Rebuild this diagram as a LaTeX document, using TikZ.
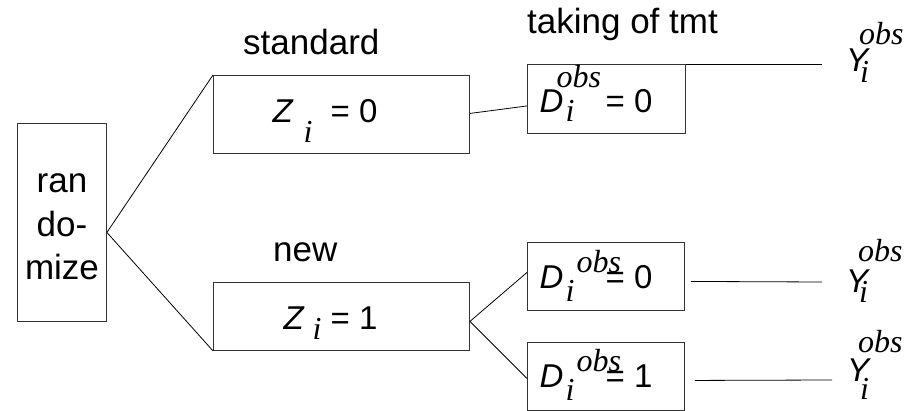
\documentclass[tikz,border=0pt]{standalone}
\usepackage{fontspec}
\setmainfont{Liberation Sans}
\newfontfamily\tnr{Liberation Serif}
\newcommand\pc[3]{\rlap{\hspace*{#1pt}\raisebox{#2pt}{#3}}}
\newcommand\sfs{\fontsize{33}{33}\selectfont}
\newcommand\srf{\fontsize{32}{32}\selectfont\tnr\itshape}
\begin{document}
\begin{tikzpicture}[x=1pt,y=-1pt,
  box/.style={draw=black!80, line width=0.9pt, inner sep=0pt, anchor=north west},
  lbl/.style={inner sep=0pt, anchor=base west, font=\fontsize{35}{43}\selectfont},
  frm/.style={inner sep=0pt, anchor=base west, font=\sfs},
  conn/.style={draw=black, line width=0.8pt}]
\useasboundingbox (0,0) rectangle (914,411);
% boxes
\node[box, minimum width=89pt, minimum height=198pt] (rand) at (17,123) {};
\node[box, minimum width=256pt, minimum height=78pt] (z0) at (213,75) {};
\node[box, minimum width=256pt, minimum height=68pt] (z1) at (213,282) {};
\node[box, minimum width=158pt, minimum height=69pt] (d0) at (527,64) {};
\node[box, minimum width=157pt, minimum height=68pt] (d0b) at (527,242) {};
\node[box, minimum width=157pt, minimum height=68pt] (d1) at (527,342) {};
% randomize text
\node[inner sep=0pt, align=center, font=\fontsize{35}{43.5}\selectfont, anchor=base] (rtext) at (62,280) {ran\\do-\\mize};
% labels
\node[lbl] (lstd) at (243,55) {standard};
\node[lbl] (lnew) at (273,262) {new};
\node[lbl] (ltake) at (527,34) {taking of tmt};
% formulas in boxes
\node[frm] (fz0) at (272,123) {\pc{0}{0}{\itshape Z}\pc{31}{-20}{\srf i}\pc{58}{0}{= 0}};
\node[frm] (fz1) at (283,330) {\pc{0}{0}{\itshape Z}\pc{29}{-10}{\srf i}\pc{47}{0}{= 1}};
\node[frm] (fd0) at (539,113) {\pc{0}{0}{\itshape D}\pc{17}{25}{\srf obs}\pc{26}{-9}{\srf i}\pc{66}{0}{= 0}};
\node[frm] (fd0b) at (539,289) {\pc{0}{0}{\itshape D}\pc{37}{16}{\srf obs}\pc{26}{-13}{\srf i}\pc{66}{0}{= 0}};
\node[frm] (fd1) at (539,388) {\pc{0}{0}{\itshape D}\pc{37}{16}{\srf obs}\pc{26}{-13}{\srf i}\pc{66}{0}{= 1}};
% outcomes
\node[frm] (y0) at (846,72) {\pc{0}{0}{\itshape Y}\pc{13}{27}{\srf obs}\pc{14}{-11}{\srf i}\hspace*{60pt}};
\node[frm] (y1) at (846,293) {\pc{0}{0}{\itshape Y}\pc{12}{31}{\srf obs}\pc{13}{-10}{\srf i}\hspace*{60pt}};
\node[frm] (y2) at (847,382) {\pc{0}{0}{\itshape Y}\pc{11}{29}{\srf obs}\pc{13}{-18}{\srf i}\hspace*{60pt}};
% line ends
\coordinate (e0) at (822,64);
\coordinate (e1) at (822,282);
\coordinate (e2) at (832,380);
% connectors
\draw[conn] ([yshift=-10pt]rand.east) -- (z0.north west);
\draw[conn] ([yshift=-10pt]rand.east) -- (z1.south west);
\draw[conn] ([yshift=1pt]z0.east) -- ([yshift=-7pt]d0.west);
\draw[conn] (d0.north east) -- (e0);
\draw[conn] ([yshift=-5pt]z1.east) -- ([yshift=4pt]d0b.west);
\draw[conn] ([yshift=-5pt]z1.east) -- ([yshift=-2pt]d1.west);
\draw[conn] ([shift={(6pt,-5pt)}]d0b.east) -- (e1);
\draw[conn] ([shift={(10pt,-4pt)}]d1.east) -- (e2);
\end{tikzpicture}
\end{document}
